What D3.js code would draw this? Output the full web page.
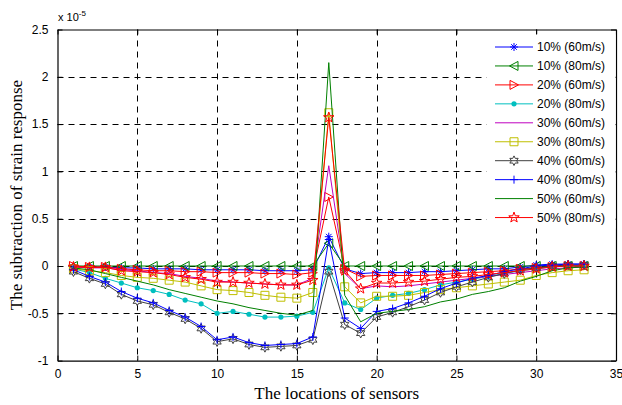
<!DOCTYPE html>
<html>
<head>
<meta charset="utf-8">
<script src="https://cdn.jsdelivr.net/npm/d3@7"></script>
<style>
  body { margin: 0; background: #fff; }
  svg { display: block; }
</style>
</head>
<body>
<svg width="622" height="405"></svg>
<script>
// sensor positions and the ten series (values in units of 1e-5)
var sensors = d3.range(1, 34);
var xTicks = [0, 5, 10, 15, 20, 25, 30, 35];
var yTicks = [-1, -0.5, 0, 0.5, 1, 1.5, 2, 2.5];
var seriesNames = ["10% (60m/s)", "10% (80m/s)", "20% (60m/s)", "20% (80m/s)", "30% (60m/s)",
                   "30% (80m/s)", "40% (60m/s)", "40% (80m/s)", "50% (60m/s)", "50% (80m/s)"];

var s10_60 = [-0.01,-0.01,-0.01,-0.02,-0.02,-0.03,-0.03,-0.03,-0.04,-0.04,-0.04,-0.04,-0.05,-0.05,-0.05,-0.04,0.31,
              -0.03,-0.08,-0.07,-0.07,-0.07,-0.06,-0.06,-0.05,-0.04,-0.03,-0.03,-0.01,0.01,0.02,0.02,0.02];
var s10_80 = [0,0,0,0,0,0,0,0,0,0,0,0,0,0,0,0,0.24,
              0,0,0,0,0,0,0,0,0,0,0,0,0,0,0,0];
var s20_60 = [0,-0.01,-0.01,-0.03,-0.04,-0.05,-0.05,-0.06,-0.06,-0.07,-0.07,-0.07,-0.08,-0.08,-0.09,-0.07,0.73,
              -0.03,-0.11,-0.1,-0.1,-0.1,-0.1,-0.09,-0.08,-0.07,-0.06,-0.05,-0.03,-0.02,-0.01,0,0];
var s20_80 = [-0.03,-0.07,-0.13,-0.18,-0.23,-0.26,-0.30,-0.36,-0.40,-0.50,-0.48,-0.51,-0.54,-0.54,-0.53,-0.49,-0.02,
              -0.39,-0.46,-0.34,-0.31,-0.29,-0.25,-0.20,-0.17,-0.14,-0.11,-0.08,-0.05,-0.03,-0.01,0,0];
var s30_60 = [-0.01,-0.02,-0.02,-0.04,-0.05,-0.07,-0.08,-0.11,-0.13,-0.16,-0.17,-0.18,-0.19,-0.2,-0.2,-0.13,1.06,
              -0.08,-0.24,-0.21,-0.22,-0.21,-0.19,-0.17,-0.15,-0.13,-0.11,-0.09,-0.07,-0.05,-0.03,-0.02,-0.01];
var s30_80 = [-0.03,-0.05,-0.07,-0.10,-0.12,-0.13,-0.15,-0.17,-0.21,-0.25,-0.26,-0.28,-0.31,-0.33,-0.34,-0.28,1.62,
              -0.22,-0.39,-0.32,-0.32,-0.31,-0.28,-0.25,-0.23,-0.21,-0.19,-0.17,-0.15,-0.10,-0.07,-0.05,-0.04];
var s40_60 = [-0.06,-0.13,-0.19,-0.30,-0.37,-0.41,-0.49,-0.56,-0.66,-0.80,-0.77,-0.83,-0.86,-0.85,-0.84,-0.78,-0.06,
              -0.62,-0.71,-0.54,-0.49,-0.43,-0.36,-0.28,-0.22,-0.17,-0.12,-0.08,-0.04,-0.02,0,0.01,0.01];
var s40_80 = [-0.04,-0.11,-0.17,-0.27,-0.34,-0.39,-0.47,-0.54,-0.64,-0.78,-0.75,-0.81,-0.84,-0.83,-0.82,-0.75,0.28,
              -0.55,-0.66,-0.48,-0.45,-0.39,-0.32,-0.24,-0.18,-0.13,-0.10,-0.06,-0.03,0,0.01,0.02,0.02];
var s50_60 = [-0.02,-0.04,-0.08,-0.12,-0.16,-0.20,-0.25,-0.29,-0.33,-0.37,-0.40,-0.44,-0.47,-0.50,-0.52,-0.47,2.15,
              -0.31,-0.59,-0.50,-0.48,-0.46,-0.43,-0.38,-0.35,-0.30,-0.27,-0.23,-0.16,-0.11,-0.05,-0.02,-0.01];
var s50_80 = [-0.01,-0.015,-0.015,-0.05,-0.06,-0.07,-0.09,-0.12,-0.14,-0.17,-0.17,-0.18,-0.19,-0.20,-0.20,-0.15,1.57,
              -0.05,-0.24,-0.18,-0.18,-0.17,-0.16,-0.14,-0.12,-0.11,-0.09,-0.07,-0.05,-0.03,-0.01,0,0];

var seriesValues = [s10_60, s10_80, s20_60, s20_80, s30_60, s30_80, s40_60, s40_80, s50_60, s50_80];
var colors = ["#0000ff", "#008000", "#ff0000", "#00bfbf", "#bf00bf", "#bfbf00", "#404040", "#0000ff", "#008000", "#ff0000"];
var markers = ["asterisk", "triLeft", "triRight", "dot", "none", "square", "hexagram", "plus", "none", "pentagram"];

var svg = d3.select("svg");
var margin = {left: 57.5, right: 616, top: 29.5, bottom: 360.6};

var x = d3.scaleLinear().domain([0, 35]).range([margin.left, margin.right]);
var y = d3.scaleLinear().domain([-1, 2.5]).range([margin.bottom, margin.top]);

// grid
var grid = svg.append("g").attr("stroke", "#000").attr("stroke-width", 1).attr("stroke-dasharray", "6,5");
grid.selectAll("line.gx").data(xTicks.slice(1, -1)).enter().append("line")
    .attr("x1", function(d) { return Math.round(x(d)) + 0.5; })
    .attr("x2", function(d) { return Math.round(x(d)) + 0.5; })
    .attr("y1", margin.top).attr("y2", margin.bottom);
grid.selectAll("line.gy").data(yTicks.slice(1, -1)).enter().append("line")
    .attr("y1", function(d) { return Math.round(y(d)) + 0.5; })
    .attr("y2", function(d) { return Math.round(y(d)) + 0.5; })
    .attr("x1", margin.left).attr("x2", margin.right);

// axes with inward ticks
var fmt = function(d) { return String(d); };
var axBottom = svg.append("g").attr("transform", "translate(0," + margin.bottom + ")")
    .call(d3.axisBottom(x).tickValues(xTicks).tickFormat(fmt).tickSizeInner(-5).tickSizeOuter(0).tickPadding(9));
var axTop = svg.append("g").attr("transform", "translate(0," + margin.top + ")")
    .call(d3.axisTop(x).tickValues(xTicks).tickFormat("").tickSizeInner(-5).tickSizeOuter(0));
var axLeft = svg.append("g").attr("transform", "translate(" + margin.left + ",0)")
    .call(d3.axisLeft(y).tickValues(yTicks).tickFormat(fmt).tickSizeInner(-5).tickSizeOuter(0).tickPadding(9));
var axRight = svg.append("g").attr("transform", "translate(" + margin.right + ",0)")
    .call(d3.axisRight(y).tickValues(yTicks).tickFormat("").tickSizeInner(-5).tickSizeOuter(0));

[axBottom, axTop, axLeft, axRight].forEach(function(a) {
  a.selectAll("path.domain").attr("stroke", "#000").attr("stroke-width", 1.2);
  a.selectAll(".tick line").attr("stroke", "#000");
  a.selectAll("text").attr("font-family", "Liberation Sans, Arial, sans-serif").attr("font-size", 12).attr("fill", "#000");
});

// marker shapes
function markerPath(type) {
  var p = d3.path(), i, a, r;
  if (type === "triLeft") {
    p.moveTo(-4.5, 0); p.lineTo(4, -4.5); p.lineTo(4, 4.5); p.closePath();
  } else if (type === "triRight") {
    p.moveTo(4.5, 0); p.lineTo(-4, -4.5); p.lineTo(-4, 4.5); p.closePath();
  } else if (type === "square") {
    p.rect(-4, -4, 8, 8);
  } else if (type === "plus") {
    p.moveTo(-4, 0); p.lineTo(4, 0); p.moveTo(0, -4); p.lineTo(0, 4);
  } else if (type === "asterisk") {
    p.moveTo(-4, 0); p.lineTo(4, 0); p.moveTo(0, -4); p.lineTo(0, 4);
    p.moveTo(-2.8, -2.8); p.lineTo(2.8, 2.8); p.moveTo(-2.8, 2.8); p.lineTo(2.8, -2.8);
  } else if (type === "pentagram" || type === "hexagram") {
    var n = type === "pentagram" ? 5 : 6;
    var ro = type === "pentagram" ? 5.5 : 4.8, ri = type === "pentagram" ? 2.2 : 2.6;
    for (i = 0; i < 2 * n; i++) {
      a = -Math.PI / 2 + i * Math.PI / n;
      r = i % 2 ? ri : ro;
      if (i === 0) p.moveTo(r * Math.cos(a), r * Math.sin(a)); else p.lineTo(r * Math.cos(a), r * Math.sin(a));
    }
    p.closePath();
  }
  return p.toString();
}

function drawMarker(g, type, color) {
  if (type === "none") return;
  if (type === "dot") {
    g.append("circle").attr("r", 2.6).attr("fill", color).attr("stroke", "none");
  } else {
    g.append("path").attr("d", markerPath(type)).attr("fill", "none").attr("stroke", color).attr("stroke-width", 1);
  }
}

var line = d3.line()
    .x(function(d) { return x(d[0]); })
    .y(function(d) { return y(d[1]); });

var plot = svg.append("g");
seriesValues.forEach(function(vals, k) {
  var pts = sensors.map(function(s, i) { return [s, vals[i]]; });
  var g = plot.append("g");
  g.append("path").datum(pts)
      .attr("d", line)
      .attr("fill", "none")
      .attr("stroke", colors[k])
      .attr("stroke-width", 1);
  if (markers[k] !== "none") {
    g.selectAll("g.m").data(pts).enter().append("g")
        .attr("transform", function(d) { return "translate(" + x(d[0]) + "," + y(d[1]) + ")"; })
        .each(function() { drawMarker(d3.select(this), markers[k], colors[k]); });
  }
});

// legend
var legend = svg.append("g");
legend.append("rect").attr("x", 487).attr("y", 35).attr("width", 128).attr("height", 193)
    .attr("fill", "#fff").attr("stroke", "#fff");
seriesNames.forEach(function(name, k) {
  var ly = 47 + k * 18.95;
  var row = legend.append("g").attr("transform", "translate(0," + ly + ")");
  row.append("line").attr("x1", 495).attr("x2", 533).attr("y1", 0).attr("y2", 0)
      .attr("stroke", colors[k]).attr("stroke-width", 1);
  var mg = row.append("g").attr("transform", "translate(514,0)");
  drawMarker(mg, markers[k], colors[k]);
  row.append("text").attr("x", 537).attr("y", 0).attr("dy", "0.35em")
      .attr("font-family", "Liberation Sans, Arial, sans-serif").attr("font-size", 12)
      .text(name);
});

// exponent label
var expo = svg.append("text").attr("x", 58).attr("y", 21)
    .attr("font-family", "Liberation Sans, Arial, sans-serif").attr("font-size", 11);
expo.append("tspan").text("x 10");
expo.append("tspan").attr("font-size", 8).attr("dy", -5).text("-5");

// axis titles
svg.append("text").attr("x", (margin.left + margin.right) / 2).attr("y", 399)
    .attr("text-anchor", "middle")
    .attr("font-family", "Liberation Serif, Times New Roman, serif").attr("font-size", 17)
    .text("The locations of sensors");
svg.append("text")
    .attr("transform", "translate(22," + ((margin.top + margin.bottom) / 2) + ") rotate(-90)")
    .attr("text-anchor", "middle")
    .attr("font-family", "Liberation Serif, Times New Roman, serif").attr("font-size", 17)
    .text("The subtraction of strain response");
</script>
</body>
</html>
